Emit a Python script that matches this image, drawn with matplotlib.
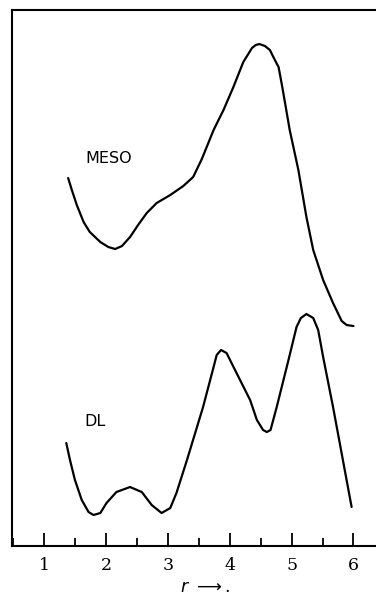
import matplotlib.pyplot as plt
from matplotlib.ticker import MultipleLocator

# radial distance r and relative intensity (arbitrary units)
meso_r = [1.39, 1.45, 1.53, 1.64, 1.74, 1.91, 2.04, 2.15, 2.26, 2.39, 2.52, 2.66,
          2.82, 3.04, 3.25, 3.41, 3.55, 3.74, 3.90, 4.06, 4.22, 4.36, 4.42,
          4.48, 4.57, 4.65, 4.73, 4.79, 4.85, 4.97, 5.11, 5.24, 5.35, 5.51, 5.67,
          5.81, 5.89, 6.00]
meso_y = [36.8, 35.6, 34.1, 32.4, 31.4, 30.4, 29.9, 29.7, 30.0, 30.9, 32.1, 33.3,
          34.3, 35.1, 36.0, 36.9, 38.7, 41.6, 43.6, 45.9, 48.4, 49.8, 50.1,
          50.2, 50.0, 49.6, 48.6, 47.9, 45.9, 41.6, 37.6, 32.9, 29.6, 26.6, 24.3,
          22.5, 22.1, 22.0]

dl_r = [1.36, 1.42, 1.50, 1.61, 1.72, 1.80, 1.91, 2.01, 2.17, 2.39, 2.58, 2.74,
        2.90, 3.04, 3.14, 3.31, 3.57, 3.74, 3.79, 3.86, 3.95, 4.03, 4.33, 4.44,
        4.54, 4.60, 4.66, 4.76, 4.95, 5.08, 5.15, 5.24, 5.35, 5.43, 5.51, 5.67,
        5.97]
dl_y = [10.3, 8.6, 6.6, 4.6, 3.4, 3.1, 3.3, 4.3, 5.4, 5.9, 5.4, 4.1,
        3.3, 3.8, 5.3, 8.6, 13.9, 17.9, 19.1, 19.6, 19.3, 18.3, 14.6, 12.6,
        11.6, 11.4, 11.6, 13.9, 18.6, 21.9, 22.8, 23.2, 22.8, 21.6, 18.9, 13.9,
        3.9]

ticks = [1, 2, 3, 4, 5, 6]

plt.rcParams['font.family'] = ['DejaVu Serif']

fig = plt.figure(figsize=(3.76, 5.97), dpi=100)
ax = fig.add_axes([0.0319, 0.0854, 0.9681, 0.8978])

ax.plot(meso_r, meso_y, color='black', lw=1.6, solid_joinstyle='round',
        solid_capstyle='round')
ax.plot(dl_r, dl_y, color='black', lw=1.6, solid_joinstyle='round',
        solid_capstyle='round')

ax.text(2.05, 38.8, 'MESO', family='DejaVu Sans', fontsize=11.5, ha='center', va='center')
ax.text(1.82, 12.5, 'DL', family='DejaVu Sans', fontsize=11.5, ha='center', va='center')

ax.set_xlim(0.483, 6.364)
ax.set_ylim(0, 53.6)
ax.set_xticks(ticks)
ax.set_xticklabels([str(t) for t in ticks], fontsize=12.5)
ax.xaxis.set_minor_locator(MultipleLocator(0.5))
ax.tick_params(axis='x', which='major', direction='in', length=9.5, width=1.3, pad=8)
ax.tick_params(axis='x', which='minor', direction='in', length=5.5, width=1.3)
ax.set_yticks([])
ax.spines['right'].set_visible(False)
for s in ['left', 'top', 'bottom']:
    ax.spines[s].set_linewidth(1.5)

ax.set_xlabel(r'$r$ $\longrightarrow$.', fontsize=12.5)
ax.xaxis.set_label_coords(0.53, -0.085)
ax.xaxis.label.set_va('baseline')

fig.savefig('out.png', dpi=100)
